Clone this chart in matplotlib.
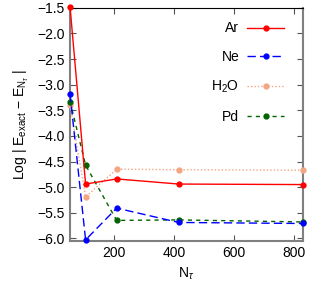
import matplotlib
matplotlib.use("Agg")
import matplotlib.pyplot as plt

# data
n_tau = [52, 104, 208, 416, 832]
ar = [-1.48, -4.94, -4.84, -4.94, -4.95]
ne = [-3.18, -6.03, -5.41, -5.69, -5.71]
h2o = [-3.40, -5.19, -4.65, -4.66, -4.67]
pd_ = [-3.33, -4.57, -5.65, -5.64, -5.68]

x_ticks = [200, 400, 600, 800]
y_ticks = [-6.0, -5.5, -5.0, -4.5, -4.0, -3.5, -3.0, -2.5, -2.0, -1.5]

plt.rcParams["font.family"] = ["Liberation Sans", "DejaVu Sans"]
plt.rcParams["mathtext.fontset"] = "custom"
plt.rcParams["mathtext.rm"] = "Liberation Sans"
plt.rcParams["mathtext.it"] = "Liberation Sans:italic"
plt.rcParams["font.size"] = 10

fig = plt.figure(figsize=(3.32, 2.92), dpi=100)
ax = fig.add_axes([0.211, 0.175, 0.702, 0.798])

ax.plot(n_tau, ar, color="#ff0000", lw=1.0, marker="o", ms=3.5, label="Ar", clip_on=False, zorder=5)
ax.plot(n_tau, ne, color="#0000ff", lw=1.0, ls=(0, (6, 3)), marker="o", ms=3.5, label="Ne", clip_on=False, zorder=4)
ax.plot(n_tau, h2o, color="#f4a582", lw=1.0, ls=(0, (1, 1.5)), marker="o", ms=3.5, label="H$_2$O", clip_on=False, zorder=3)
ax.plot(n_tau, pd_, color="#006400", lw=1.0, ls=(0, (3, 3)), marker="o", ms=3.5, label="Pd", clip_on=False, zorder=3)

ax.set_xlim(52, 832)
ax.set_ylim(-6.05, -1.5)
ax.set_xticks(x_ticks)
ax.set_yticks(y_ticks)
ax.set_yticklabels([f"{v:.1f}".replace("-", "\u2212") for v in y_ticks])

ax.set_xlabel(r"N$_\tau$")
ax.set_ylabel(r"Log | E$_{\mathrm{exact}}$ $-$ E$_{\mathrm{N}_\tau}$ |")

ax.tick_params(direction="in", top=True, right=True, length=4, color="#555555", pad=4)
for side in ["left", "bottom", "right"]:
    ax.spines[side].set_color("#808080")
    ax.spines[side].set_linewidth(1.5)
ax.spines["top"].set_color("black")
ax.spines["top"].set_linewidth(0.8)

leg = ax.legend(loc="upper right", bbox_to_anchor=(0.94, 0.966), borderaxespad=0,
                markerfirst=False, frameon=False,
                handlelength=2.6, labelspacing=1.05,
                fontsize=10, handletextpad=0.6)

fig.savefig("out.png", dpi=100)
